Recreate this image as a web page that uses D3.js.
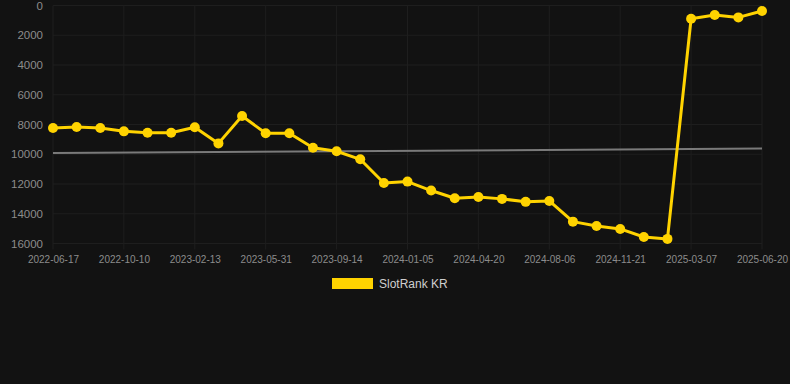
<!DOCTYPE html>
<html>
<head>
<meta charset="utf-8">
<script src="https://cdn.jsdelivr.net/npm/d3@7"></script>
<style>
  html, body { margin: 0; padding: 0; background: #121212; }
  #chart { width: 790px; height: 384px; }
</style>
</head>
<body>
<div id="chart"></div>
<script>
// rank values per observation (lower = better, axis reversed)
const rankValues = [8230, 8170, 8230, 8460, 8550, 8550, 8190, 9270, 7430, 8590,
  8590, 9560, 9800, 10340, 11930, 11840, 12440, 12960, 12870, 13000,
  13200, 13140, 14530, 14820, 15020, 15560, 15690, 890, 640, 800, 370];
// labels shown on the x axis (every third observation)
const tickLabels = ['2022-06-17', '2022-10-10', '2023-02-13', '2023-05-31', '2023-09-14',
  '2024-01-05', '2024-04-20', '2024-08-06', '2024-11-21', '2025-03-07', '2025-06-20'];
const tickEvery = 3;
// grey trend line, start and end value
const trendValues = [9910, 9620];
const yTicks = [0, 2000, 4000, 6000, 8000, 10000, 12000, 14000, 16000];
const seriesName = 'SlotRank KR';

const width = 790, height = 384;
const margin = { top: 5.5, right: 28, bottom: 140.5, left: 53 };
const innerW = width - margin.left - margin.right;
const innerH = height - margin.top - margin.bottom;

const idx = d3.range(rankValues.length);
const scaleX = d3.scalePoint().domain(idx).range([0, innerW]);
const scaleY = d3.scaleLinear().domain([0, 16000]).range([0, innerH]);

const svg = d3.select('#chart').append('svg')
    .attr('width', width)
    .attr('height', height)
    .style('font-family', 'Helvetica, Arial, "Liberation Sans", sans-serif');
svg.append('rect').attr('width', width).attr('height', height).attr('fill', '#121212');

const chrt = svg.append('g')
    .attr('transform', 'translate(' + margin.left + ',' + margin.top + ')');

// grid
const tickIdx = idx.filter((i) => i % tickEvery === 0);
chrt.append('g').selectAll('line')
    .data(yTicks).enter().append('line')
    .attr('x1', 0).attr('x2', innerW)
    .attr('y1', (d) => scaleY(d)).attr('y2', (d) => scaleY(d))
    .attr('stroke', '#1e1e1e').attr('stroke-width', 1);
chrt.append('g').selectAll('line')
    .data(tickIdx).enter().append('line')
    .attr('x1', (d) => scaleX(d)).attr('x2', (d) => scaleX(d))
    .attr('y1', 0).attr('y2', innerH + 6)
    .attr('stroke', '#1e1e1e').attr('stroke-width', 1);

// y axis labels
const yAxis = chrt.append('g')
    .call(d3.axisLeft(scaleY).tickValues(yTicks).tickSize(0).tickPadding(10).tickFormat((d) => String(d)));
yAxis.select('.domain').remove();
yAxis.selectAll('text').attr('fill', '#8c8c8c').style('font-size', '11.5px');

// x axis labels
const xAxis = chrt.append('g')
    .attr('transform', 'translate(0,' + innerH + ')')
    .call(d3.axisBottom(scaleX).tickValues(tickIdx).tickSize(0).tickPadding(12)
        .tickFormat((d) => tickLabels[d / tickEvery]));
xAxis.select('.domain').remove();
xAxis.selectAll('text').attr('fill', '#8c8c8c').style('font-size', '10px');

// trend line
chrt.append('line')
    .attr('x1', scaleX(0)).attr('x2', scaleX(idx.length - 1))
    .attr('y1', scaleY(trendValues[0])).attr('y2', scaleY(trendValues[1]))
    .attr('stroke', '#7a7a7a').attr('stroke-width', 2);

// rank line
const line = d3.line().x((d, i) => scaleX(i)).y((d) => scaleY(d));
chrt.append('path')
    .datum(rankValues)
    .attr('fill', 'none')
    .attr('stroke', '#FFD300')
    .attr('stroke-width', 3)
    .attr('stroke-linejoin', 'round')
    .attr('d', line);

chrt.selectAll('.pt')
    .data(rankValues).enter().append('circle')
    .attr('class', 'pt')
    .attr('cx', (d, i) => scaleX(i))
    .attr('cy', (d) => scaleY(d))
    .attr('r', 5)
    .attr('fill', '#FFD300');

// legend
const legend = svg.append('g').attr('transform', 'translate(332,278)');
legend.append('rect')
    .attr('width', 41).attr('height', 11)
    .attr('fill', '#FFD300');
legend.append('text')
    .attr('x', 47).attr('y', 10)
    .attr('fill', '#cfcfcf')
    .style('font-size', '12px')
    .text(seriesName);
</script>
</body>
</html>
